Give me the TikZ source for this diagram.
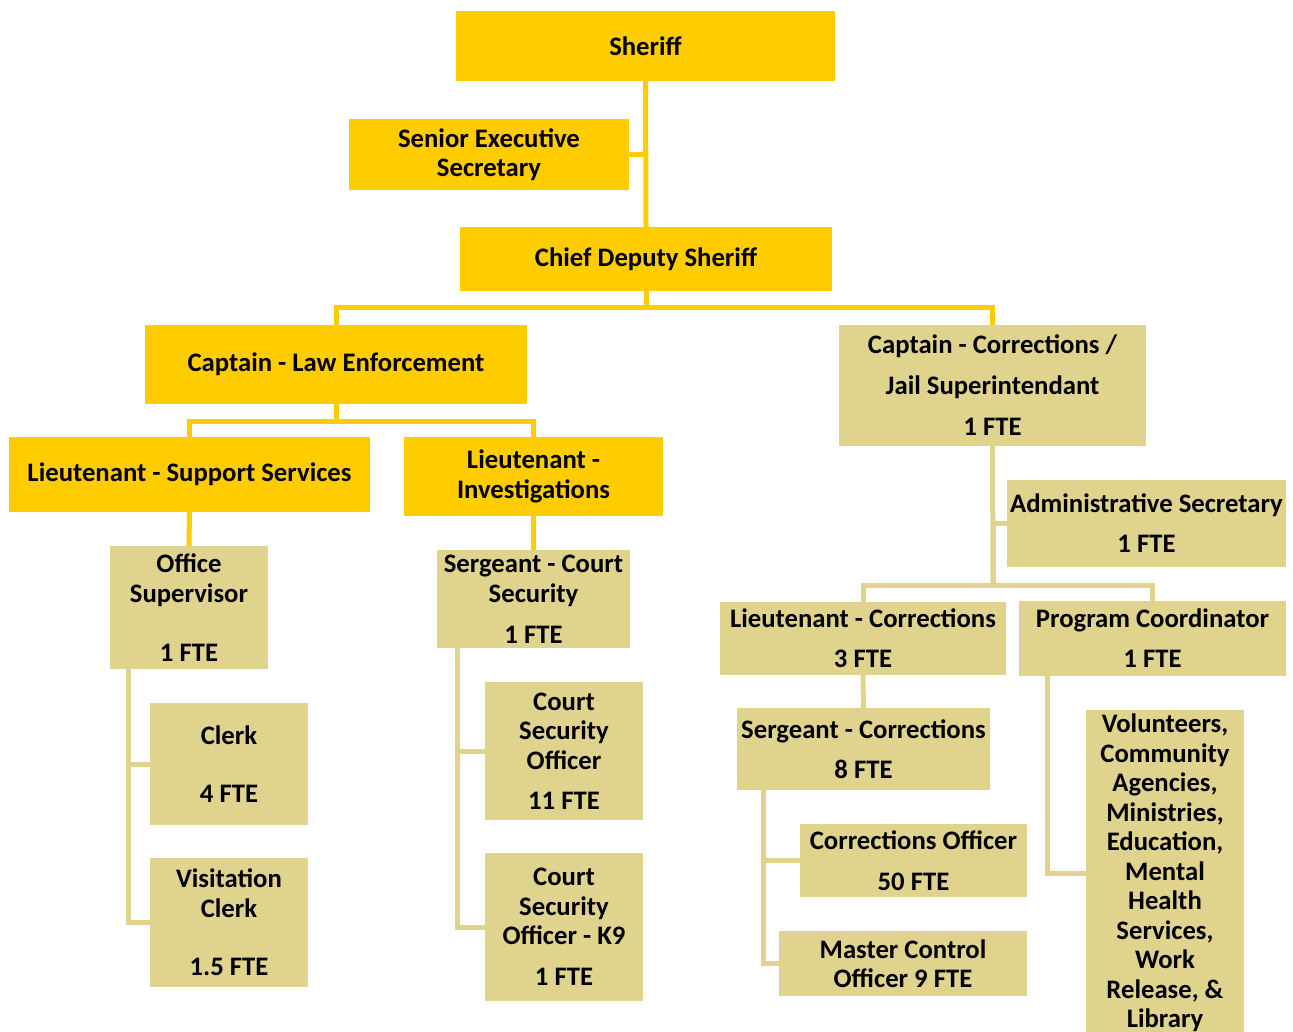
\documentclass[tikz,border=0pt]{standalone}
\usepackage{fontspec}
\setmainfont{Carlito}
\definecolor{gold}{HTML}{FFCC00}
\definecolor{khaki}{HTML}{E0D38E}
\tikzset{
  box/.style={inner sep=0pt, align=center, text=black,
    font=\bfseries\fontsize{26.7}{29.5}\selectfont},
  topbox/.style={box, fill=gold},
  subbox/.style={box, fill=khaki},
  goldline/.style={draw=gold, line width=5pt},
  khakiline/.style={draw=khaki, line width=5pt},
}
% box given by its corners (x1,y1) and (x2,y2)
\newcommand\orgbox[7]{%
  \node[#1, minimum width={#4-#2}, minimum height={#5-#3}] (#6)
    at ({(#2+#4)/2},{(#3+#5)/2}) {#7};}
\begin{document}
\begin{tikzpicture}[x=1pt,y=-1pt]
\useasboundingbox (0,0) rectangle (1293,1032);
\clip (0,0) rectangle (1293,1032);

% command staff
\orgbox{topbox}{456}{11}{835}{81}{sheriff}{Sheriff}
\orgbox{topbox}{349}{119}{629}{190}{secretary}{Senior Executive\\Secretary}
\orgbox{topbox}{460}{227}{832}{291}{chief}{Chief Deputy Sheriff}
\orgbox{topbox}{145}{325}{527}{404}{capLE}{Captain - Law Enforcement}
\orgbox{subbox}{839}{325}{1146}{446}{capCR}{Captain - Corrections /\\[11.5pt]Jail Superintendant\\[11.5pt]1 FTE}

% law enforcement
\orgbox{topbox}{9}{437}{370}{512}{ltSupport}{Lieutenant - Support Services}
\orgbox{topbox}{404}{437}{663}{516}{ltInv}{Lieutenant -\\Investigations}
\orgbox{subbox}{110}{546}{268}{669}{office}{Office\\Supervisor\\[29.5pt]1 FTE}
\orgbox{subbox}{437}{550}{630}{648}{sgtCourt}{Sergeant - Court\\Security\\[11.5pt]1 FTE}
\orgbox{subbox}{150}{703}{308}{825}{clerk}{Clerk\\[29pt]4 FTE}
\orgbox{subbox}{150}{858}{308}{987}{visit}{Visitation\\Clerk\\[29pt]1.5 FTE}
\orgbox{subbox}{485}{682}{643}{820}{cso}{Court\\Security\\Officer\\[11pt]11 FTE}
\orgbox{subbox}{485}{853}{643}{1001}{k9}{Court\\Security\\Officer - K9\\[11.5pt]1 FTE}

% corrections
\orgbox{subbox}{1007}{480}{1286}{567}{admin}{Administrative Secretary\\[10.5pt]1 FTE}
\orgbox{subbox}{720}{602}{1006}{675}{ltCorr}{Lieutenant - Corrections\\[10.5pt]3 FTE}
\orgbox{subbox}{1019}{601}{1286}{676}{program}{Program Coordinator\\[10.5pt]1 FTE}
\orgbox{subbox}{737}{708}{990}{790}{sgtCorr}{Sergeant - Corrections\\[10.5pt]8 FTE}
\orgbox{subbox}{800}{824}{1027}{897}{officer}{Corrections Officer\\[11.5pt]50 FTE}
\orgbox{subbox}{779}{931}{1027}{996}{master}{Master Control\\Officer 9 FTE}
\orgbox{subbox}{1086}{710}{1244}{1036}{volunteers}{Volunteers,\\Community\\Agencies,\\Ministries,\\Education,\\Mental\\Health\\Services,\\Work\\Release, \&\\Library}

% gold connectors
\coordinate (jChief) at (646,308);
\coordinate (jCapLE) at (336,421);
\draw[goldline] (sheriff.south) -- (chief.north);
\draw[goldline] (secretary.east) -- (secretary.east -| sheriff.south);
\draw[goldline] (chief.south) -- (jChief);
\draw[goldline] (capLE.north) |- (jChief) -| (capCR.north);
\draw[goldline] (capLE.south) -- (jCapLE);
\draw[goldline] (ltSupport.north) |- (jCapLE) -| (ltInv.north);
\draw[goldline] (ltSupport.south) -- (office.north);
\draw[goldline] (ltInv.south) -- (sgtCourt.north);

% khaki connectors
\coordinate (oBar) at (128,669);
\coordinate (sBar) at (457,648);
\coordinate (cBar) at (993,585);
\coordinate (gBar) at (763,790);
\coordinate (pBar) at (1047,676);
\draw[khakiline] (oBar) |- (visit.west);
\draw[khakiline] (clerk.west) -| (oBar);
\draw[khakiline] (sBar) |- (k9.west);
\draw[khakiline] (cso.west) -| (sBar);
\draw[khakiline] (capCR.south) -- (cBar);
\draw[khakiline] (admin.west) -| (cBar);
\draw[khakiline] (ltCorr.north) |- (cBar) -| (program.north);
\draw[khakiline] (ltCorr.south) -- (sgtCorr.north);
\draw[khakiline] (gBar) |- (master.west);
\draw[khakiline] (officer.west) -| (gBar);
\draw[khakiline] (pBar) |- (volunteers.west);
\end{tikzpicture}
\end{document}
